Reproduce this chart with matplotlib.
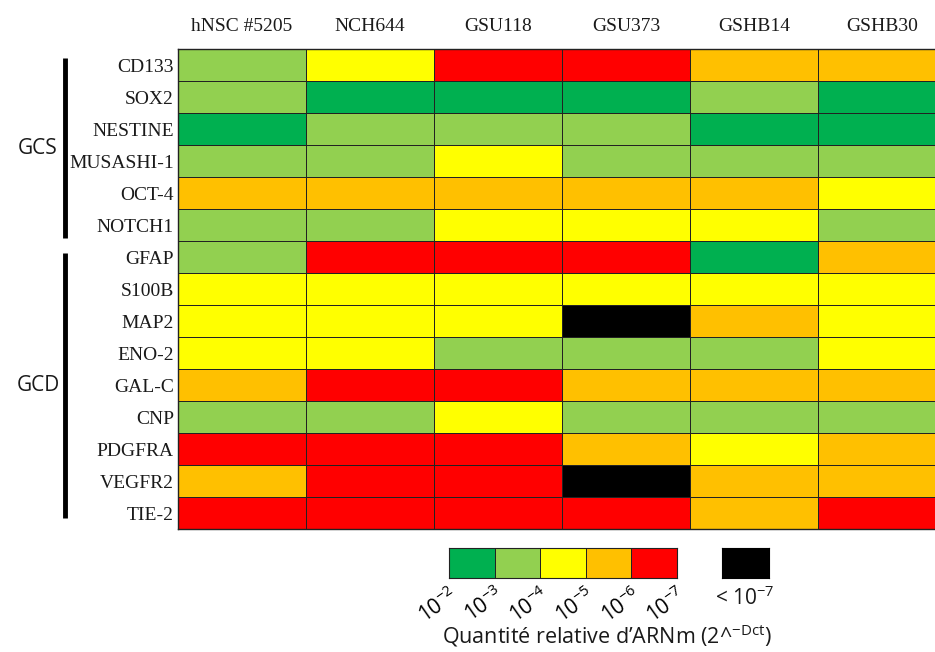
import numpy as np
import matplotlib.pyplot as plt
from matplotlib.colors import ListedColormap, BoundaryNorm

samples = ["hNSC #5205", "NCH644", "GSU118", "GSU373", "GSHB14", "GSHB30"]
genes = ["CD133", "SOX2", "NESTINE", "MUSASHI-1", "OCT-4", "NOTCH1",
         "GFAP", "S100B", "MAP2", "ENO-2", "GAL-C", "CNP", "PDGFRA",
         "VEGFR2", "TIE-2"]

# niveau: 0 = 10^-2..10^-3, 1 = 10^-3..10^-4, 2 = 10^-4..10^-5,
#         3 = 10^-5..10^-6, 4 = 10^-6..10^-7, 5 = < 10^-7
levels = [
    [1, 2, 4, 4, 3, 3],
    [1, 0, 0, 0, 1, 0],
    [0, 1, 1, 1, 0, 0],
    [1, 1, 2, 1, 1, 1],
    [3, 3, 3, 3, 3, 2],
    [1, 1, 2, 2, 2, 1],
    [1, 4, 4, 4, 0, 3],
    [2, 2, 2, 2, 2, 2],
    [2, 2, 2, 5, 3, 2],
    [2, 2, 1, 1, 1, 2],
    [3, 4, 4, 3, 3, 3],
    [1, 1, 2, 1, 1, 1],
    [4, 4, 4, 3, 2, 3],
    [3, 4, 4, 5, 3, 3],
    [4, 4, 4, 4, 3, 4],
]
scale_labels = ["10$^{-2}$", "10$^{-3}$", "10$^{-4}$", "10$^{-5}$", "10$^{-6}$", "10$^{-7}$"]
groups = [("GCS", 0, 5), ("GCD", 6, 14)]

colors = ["#00B050", "#92D050", "#FFFF00", "#FFC000", "#FF0000", "#000000"]
cmap = ListedColormap(colors)
norm = BoundaryNorm(np.arange(-0.5, 6.5, 1), cmap.N)

plt.rcParams["mathtext.fontset"] = "custom"
plt.rcParams["mathtext.rm"] = "Open Sans"
plt.rcParams["mathtext.it"] = "Open Sans"
plt.rcParams["text.color"] = "#1a1a1a"

serif = ["Liberation Serif", "DejaVu Serif"]
sans = ["Open Sans", "DejaVu Sans"]

W, H = 935, 652
fig = plt.figure(figsize=(W / 100, H / 100), dpi=100)

def px_axes(x0, y0, x1, y1):
    return fig.add_axes([x0 / W, 1 - y1 / H, (x1 - x0) / W, (y1 - y0) / H])

# heatmap (la derniere colonne est coupee par le bord droit)
ax = px_axes(178, 49, 946, 529)
data = np.array(levels)
ax.pcolormesh(data, cmap=cmap, norm=norm, edgecolors="#222222", linewidth=0.7)
ax.set_xlim(0, len(samples))
ax.set_ylim(len(genes), 0)
ax.set_xticks(np.arange(len(samples)) + 0.5)
ax.set_xticklabels(samples, family=serif, fontsize=14, color="#1a1a1a")
ax.xaxis.tick_top()
ax.set_yticks(np.arange(len(genes)) + 0.5)
ax.set_yticklabels(genes, family=serif, fontsize=14, color="#1a1a1a")
ax.tick_params(length=0, pad=3)
ax.tick_params(axis="x", pad=10)
for s in ax.spines.values():
    s.set_color("#222222")
    s.set_linewidth(1.0)

# accolades de groupes
ytop = [58, 253]
ybot = [238, 518]
for (name, i0, i1), yt, yb in zip(groups, ytop, ybot):
    fig.add_artist(plt.Line2D([65 / W, 65 / W], [1 - yt / H, 1 - yb / H],
                              color="black", lw=3.5, solid_capstyle="butt"))
    fig.text(38 / W, 1 - (yt + yb) / 2 / H, name, family=sans, fontsize=15,
             ha="center", va="center")

# echelle de couleurs
cax = px_axes(449, 548, 677, 578)
cax.pcolormesh(np.arange(5).reshape(1, -1), cmap=cmap, norm=norm,
               edgecolors="#222222", linewidth=0.7)
cax.set_xlim(0, 5)
cax.set_ylim(0, 1)
cax.set_yticks([])
cax.set_xticks(np.arange(6))
cax.set_xticklabels(scale_labels, rotation=35, ha="right", va="top",
                    rotation_mode="anchor", fontsize=15, family=sans)
cax.tick_params(length=0, pad=4)
for s in cax.spines.values():
    s.set_color("#222222")

bax = px_axes(722, 548, 769, 578)
bax.set_facecolor("black")
bax.set_xticks([])
bax.set_yticks([])
fig.text(745 / W, 1 - 598 / H, "< 10$^{-7}$", family=sans, fontsize=15,
         ha="center", va="center")

fig.text(607 / W, 1 - 636 / H, "Quantité relative d\u2019ARNm (2^$^{-Dct}$)",
         family=sans, fontsize=15.5, ha="center", va="center")

fig.savefig("out.png", dpi=100)
